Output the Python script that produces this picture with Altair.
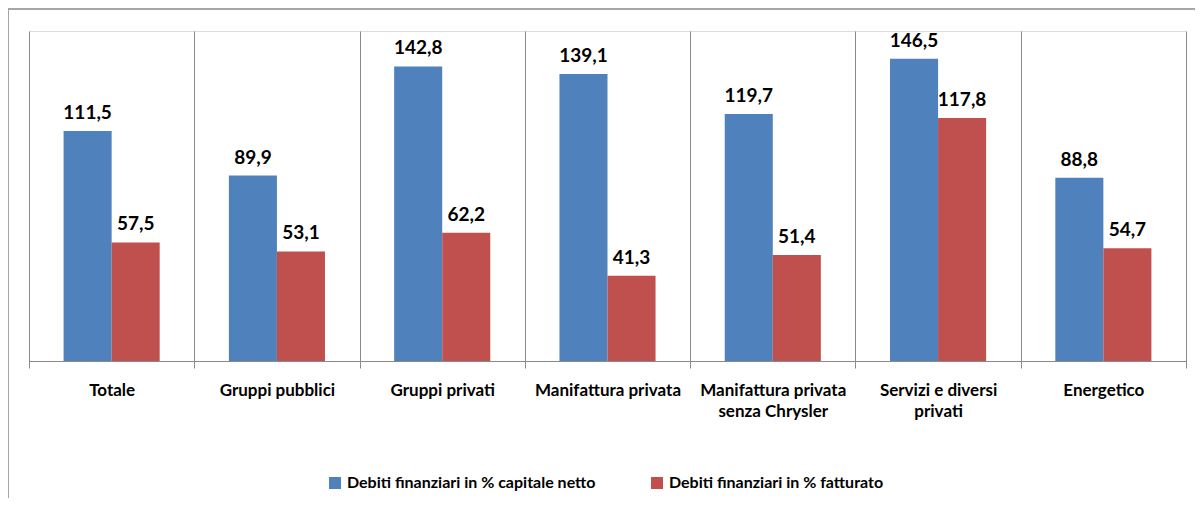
import altair as alt
import pandas as pd

categories = ["Totale", "Gruppi pubblici", "Gruppi privati", "Manifattura privata",
              "Manifattura privata|senza Chrysler", "Servizi e diversi|privati", "Energetico"]
series = ["Debiti finanziari in % capitale netto", "Debiti finanziari in % fatturato"]
capitale = [111.5, 89.9, 142.8, 139.1, 119.7, 146.5, 88.8]
fatturato = [57.5, 53.1, 62.2, 41.3, 51.4, 117.8, 54.7]
colors = ["#4F81BD", "#C0504D"]

rows = []
for c, a, b in zip(categories, capitale, fatturato):
    for s, v in zip(series, [a, b]):
        rows.append({"cat": c, "serie": s, "val": v,
                     "lab": f"{v:.1f}".replace(".", ",")})
df = pd.DataFrame(rows)

FONT = "Lato"
W, H = 1157, 330

x = alt.X("cat:N", sort=categories, title=None,
          scale=alt.Scale(paddingInner=0, paddingOuter=0),
          axis=alt.Axis(tickBand="extent", grid=True, gridColor="#8a8a8a", gridWidth=1,
                        domainColor="#8a8a8a", tickColor="#8a8a8a", tickSize=7,
                        labelAngle=0, labelFont=FONT, labelFontSize=17, labelFontWeight="bold",
                        labelColor="#000000", labelPadding=14, labelLineHeight=21,
                        labelExpr="split(datum.label, '|')", labelLimit=300))
xo = alt.XOffset("serie:N", sort=series, scale=alt.Scale(paddingOuter=0.72, paddingInner=0))
y = alt.Y("val:Q", scale=alt.Scale(domain=[0, 160]), axis=None)
col = alt.Color("serie:N", sort=series, scale=alt.Scale(domain=series, range=colors),
                legend=alt.Legend(title=None, orient="none", legendX=298, legendY=444,
                                  direction="horizontal", symbolType="square", symbolSize=144,
                                  symbolStrokeWidth=0, labelFont=FONT, labelFontSize=16,
                                  labelFontWeight="bold", labelColor="#000000",
                                  columnPadding=53, labelLimit=400, labelOffset=4))

base = alt.Chart(df)
bars = base.mark_bar(stroke=None).encode(x=x, xOffset=xo, y=y, color=col)
texts = base.mark_text(font=FONT, fontSize=19, fontWeight="bold", color="#000000",
                       baseline="alphabetic", dy=-12).encode(
    x=alt.X("cat:N", sort=categories), xOffset=xo, y=y, text="lab:N")

border = alt.Chart(pd.DataFrame({"k": [0]})).mark_rule(color="#a6a6a6", strokeWidth=2)
border_top = border.encode(x=alt.value(-21), x2=alt.value(W + 20), y=alt.value(-22))
border_left = border.encode(x=alt.value(-21), y=alt.value(-22), y2=alt.value(H + 140))

chart = alt.layer(bars, texts, border_top, border_left).properties(
    width=W, height=H,
    autosize=alt.AutoSizeParams(type="none"),
    padding={"left": 21, "top": 23, "right": 9, "bottom": 137},
).configure_view(stroke=None).configure(background="#ffffff")

chart.save("out.html", embed_options={"renderer": "svg", "actions": False})
